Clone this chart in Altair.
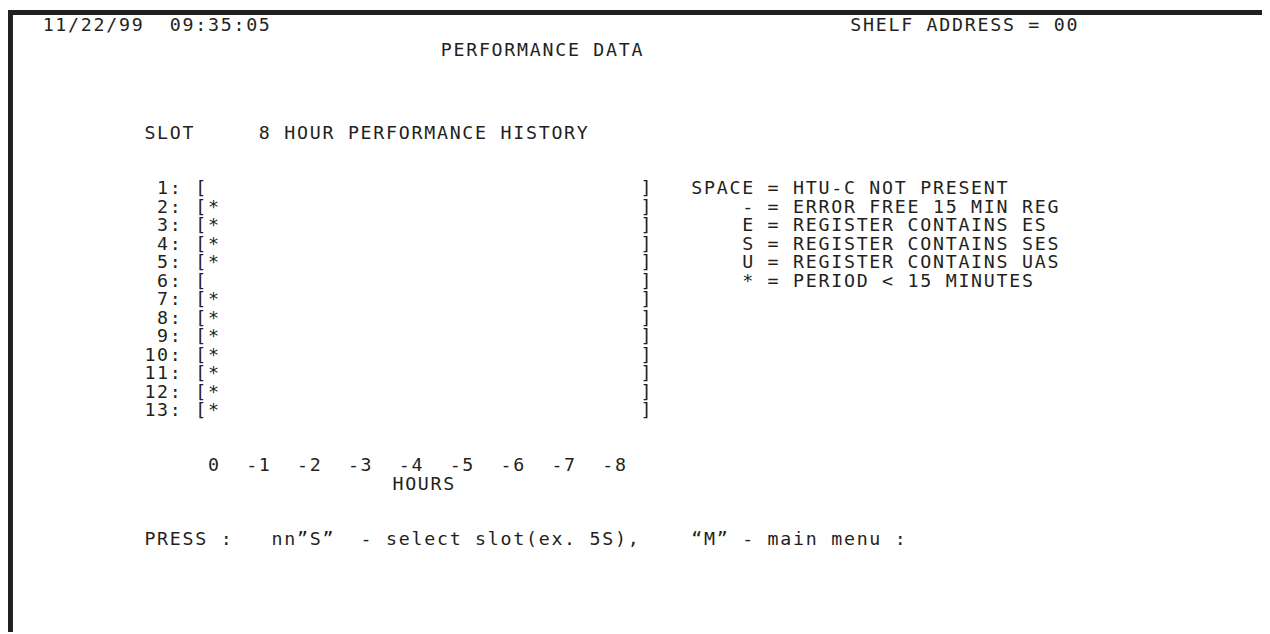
import altair as alt
import pandas as pd

# ---- screen text, placed on a terminal grid (line, column) ----
header_text = ["11/22/99", "09:35:05", "SHELF ADDRESS = 00", "PERFORMANCE DATA",
               "SLOT", "8 HOUR PERFORMANCE HISTORY"]
header_line = [0.15, 0.15, 0.15, 1.5, 6, 6]
header_col = [0, 10, 63.5, 31.3, 8, 17]

slot_numbers = [1, 2, 3, 4, 5, 6, 7, 8, 9, 10, 11, 12, 13]
slot_history = ["", "*", "*", "*", "*", "", "*", "*", "*", "*", "*", "*", "*"]
first_slot_line = 9

legend_symbol = ["SPACE", "-", "E", "S", "U", "*"]
legend_meaning = ["HTU-C NOT PRESENT", "ERROR FREE 15 MIN REG", "REGISTER CONTAINS ES",
                  "REGISTER CONTAINS SES", "REGISTER CONTAINS UAS", "PERIOD < 15 MINUTES"]

hour_ticks = [0, -1, -2, -3, -4, -5, -6, -7, -8]
hours_title = "HOURS"

footer_text = ["PRESS :", "nn\u201dS\u201d", "- select slot(ex. 5S),", "\u201cM\u201d - main menu :"]
footer_col = [8, 18, 25, 51]

# ---- build segments (line, start column, text) ----
segments = []
for t, l, c in zip(header_text, header_line, header_col):
    segments.append((l, c, t))
for i, (n, h) in enumerate(zip(slot_numbers, slot_history)):
    line = first_slot_line + i
    label = f"{n}:"
    segments.append((line, 11 - len(label), label))
    segments.append((line, 12, "[" + h))
    segments.append((line, 47, "]"))
for i, (s, m) in enumerate(zip(legend_symbol, legend_meaning)):
    line = first_slot_line + i
    segments.append((line, 56 - len(s), s))
    segments.append((line, 57, "="))
    segments.append((line, 59, m))
for h in hour_ticks:
    lab = str(h)
    segments.append((24, 14 - 4 * h - len(lab), lab))
segments.append((25, 27.5, hours_title))
for t, c in zip(footer_text, footer_col):
    segments.append((28, c, t))

# one row per character cell (monospaced terminal grid)
cells = []
for line, col, text in segments:
    for k, ch in enumerate(text):
        if ch != " ":
            cells.append({"line": line, "col": col + k + 0.5, "ch": ch})
cells_df = pd.DataFrame(cells)

W, H = 1262, 626
CW, LH = 12.8, 18.6
xs = alt.Scale(domain=[-34 / CW, (W - 34) / CW], nice=False, zero=False)
ys = alt.Scale(domain=[-12 / LH, (H - 12) / LH], nice=False, zero=False, reverse=True)

ink = "#231f20"

text_layer = alt.Chart(cells_df).mark_text(
    align="center", baseline="middle", font="DejaVu Sans Mono", fontSize=18.4, color=ink
).encode(
    x=alt.X("col:Q", scale=xs, axis=None),
    y=alt.Y("line:Q", scale=ys, axis=None),
    text="ch:N",
)

top_border = alt.Chart(pd.DataFrame({"a": [0]})).mark_rule(
    color=ink, strokeWidth=5
).encode(x=alt.value(0), x2=alt.value(W), y=alt.value(2.5))

left_border = alt.Chart(pd.DataFrame({"a": [0]})).mark_rule(
    color=ink, strokeWidth=5
).encode(x=alt.value(2.5), y=alt.value(0), y2=alt.value(H))

chart = alt.layer(top_border, left_border, text_layer).properties(
    width=W, height=H, padding=0, autosize=alt.AutoSizeParams(type="none"),
    background="white"
).configure_view(stroke=None)

chart.save("out.html", embed_options={"renderer": "svg", "actions": False})
